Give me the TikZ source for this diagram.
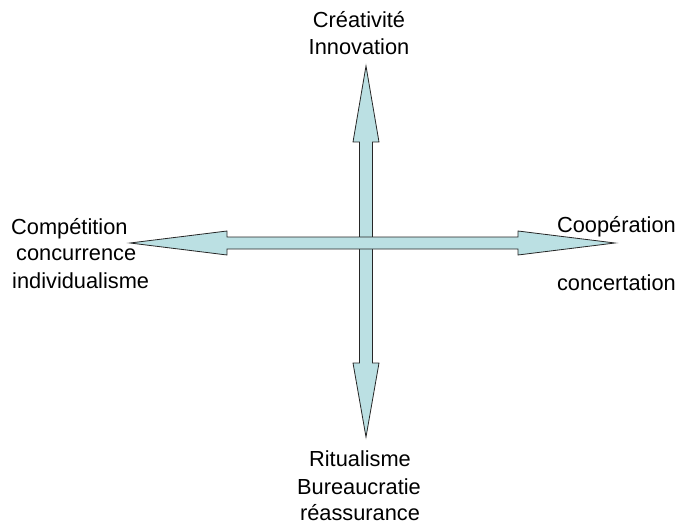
\documentclass[tikz,border=0pt]{standalone}
\usepackage{fontspec}
\setmainfont{Liberation Sans}
\definecolor{arrowfill}{HTML}{BBE0E3}
\begin{document}
\begin{tikzpicture}[x=1pt,y=-1pt,
  arrowshape/.style={fill=arrowfill, draw=black!85, line width=0.8pt, line join=miter},
  lbl/.style={inner sep=0pt, font=\fontsize{21.8}{27}\selectfont}]
\useasboundingbox (0,0) rectangle (683,524);
% vertical double arrow (drawn first, lies beneath)
\draw[arrowshape] (366,66) -- (379,142) -- (372.5,142) -- (372.5,363) -- (379,363)
  -- (366,437) -- (353,363) -- (359.5,363) -- (359.5,142) -- (353,142) -- cycle;
% horizontal double arrow
\draw[arrowshape] (130,243) -- (227,231) -- (227,237) -- (518,237) -- (518,231)
  -- (615,243) -- (518,255) -- (518,249) -- (227,249) -- (227,255) -- cycle;
% top label
\node[lbl, anchor=base] (t1) at (359,28) {Créativité};
\node[lbl, anchor=base] (t2) at (359,55) {Innovation};
% bottom label
\node[lbl, anchor=base] (b1) at (360,466) {Ritualisme};
\node[lbl, anchor=base] (b2) at (359,494) {Bureaucratie};
\node[lbl, anchor=base] (b3) at (360,520) {réassurance};
% left label
\node[lbl, anchor=base west] (l1) at (11,234) {Compétition};
\node[lbl, anchor=base west] (l2) at (16,260) {concurrence};
\node[lbl, anchor=base west] (l3) at (12,288) {individualisme};
% right label
\node[lbl, anchor=base east] (r1) at (676,232) {Coopération};
\node[lbl, anchor=base east] (r2) at (676,290) {concertation};
\end{tikzpicture}
\end{document}
